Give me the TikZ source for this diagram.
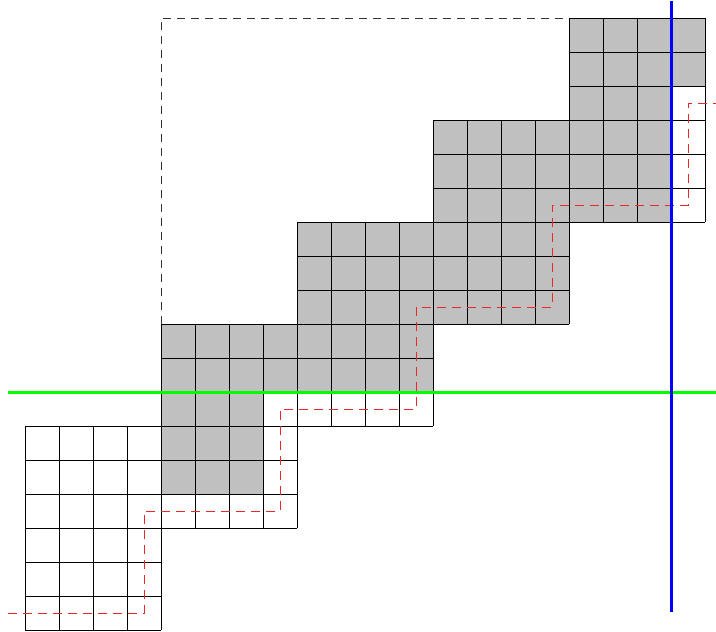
\documentclass[tikz,border=0pt]{standalone}
\definecolor{cellgray}{RGB}{192,192,192}
\definecolor{pathred}{RGB}{235,40,40}
\definecolor{linegreen}{RGB}{0,255,0}
\begin{document}
\begin{tikzpicture}[x=1pt,y=-1pt,
  gridline/.style={black,line width=1pt},
  blackdash/.style={black!80,line width=1pt,dash pattern=on 8pt off 6pt},
  reddash/.style={pathred,line width=1pt,dash pattern=on 9pt off 6pt},
  greenline/.style={linegreen,line width=3pt},
  blueline/.style={blue,line width=3pt}]
\useasboundingbox (0,0) rectangle (716,632);
% gray cells
\fill[cellgray] (161,324) rectangle (297,392);
\fill[cellgray] (161,392) rectangle (263,494);
\fill[cellgray] (297,222) rectangle (433,392);
\fill[cellgray] (433,120) rectangle (569,324);
\fill[cellgray] (569,18) rectangle (705,86);
\fill[cellgray] (569,86) rectangle (671,222);
% grids
\foreach \k in {0,...,4}{
  \pgfmathsetmacro\bx{25+136*\k}
  \pgfmathsetmacro\by{426-102*\k}
  \foreach \i in {0,...,4} \draw[gridline] (\bx+34*\i,\by) -- (\bx+34*\i,\by+204);
  \foreach \j in {0,...,6} \draw[gridline] (\bx,\by+34*\j) -- (\bx+136,\by+34*\j);
}
% dashed frame
\coordinate (fa) at (161,324);
\coordinate (fb) at (161,18);
\coordinate (fc) at (569,18);
\draw[blackdash] (fa) -- (fb) -- (fc);
% red staircase path
\coordinate (ps) at (8,613);
\coordinate (pe) at (716,103);
\draw[reddash] (ps) -- (144,613) -- (144,511) -- (280,511) -- (280,409) -- (416,409)
  -- (416,307) -- (552,307) -- (552,205) -- (688,205) -- (688,103) -- (pe);
% green and blue lines
\coordinate (gl) at (8,392);
\coordinate (gr) at (716,392);
\draw[greenline] (gl) -- (gr);
\coordinate (bt) at (671,1);
\coordinate (bb) at (671,612);
\draw[blueline] (bt) -- (bb);
\end{tikzpicture}
\end{document}
